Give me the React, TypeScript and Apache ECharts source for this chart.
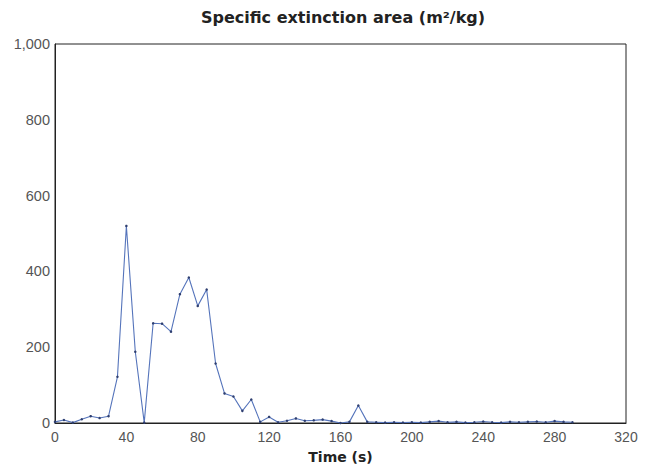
import { useEffect, useRef } from 'react';
import * as echarts from 'echarts';

const times = [
  0, 5, 10, 15, 20, 25, 30, 35, 40, 45, 50, 55, 60, 65, 70, 75, 80, 85, 90, 95,
  100, 105, 110, 115, 120, 125, 130, 135, 140, 145, 150, 155, 160, 165, 170, 175,
  180, 185, 190, 195, 200, 205, 210, 215, 220, 225, 230, 235, 240, 245, 250, 255,
  260, 265, 270, 275, 280, 285, 290,
];
const extinction = [
  3, 8, 1, 10, 18, 13, 18, 122, 520, 188, 1, 263, 262, 241, 340, 384, 309, 352, 157, 78,
  70, 32, 62, 3, 16, 2, 6, 12, 6, 7, 9, 5, 0, 3, 46, 3,
  2, 1, 2, 1, 2, 1, 3, 5, 2, 3, 1, 2, 4, 2, 1, 3,
  2, 3, 4, 2, 5, 3, 2,
];
const xTicks = [0, 40, 80, 120, 160, 200, 240, 280, 320];
const yTicks = [0, 200, 400, 600, 800, 1000];

export default function App() {
  const chartRef = useRef<HTMLDivElement>(null);

  useEffect(() => {
    if (!chartRef.current) return;
    document.body.style.margin = '0';
    const chart = echarts.init(chartRef.current, undefined, { renderer: 'svg' });

    const font = 'Liberation Sans, Arial, sans-serif';
    const boldFont = 'DejaVu Sans, sans-serif';
    chart.setOption({
      animation: false,
      textStyle: { fontFamily: font },
      title: {
        text: 'Specific extinction area (m²/kg)',
        left: 338,
        textAlign: 'center',
        top: 4,
        textStyle: { fontSize: 16, fontWeight: 'bold', color: '#222', fontFamily: boldFont },
      },
      grid: {
        left: 55,
        right: 24,
        top: 44,
        bottom: 45,
        show: true,
        borderColor: '#222',
        borderWidth: 1,
      },
      xAxis: {
        type: 'value',
        min: xTicks[0],
        max: xTicks[xTicks.length - 1],
        interval: 40,
        name: 'Time (s)',
        nameLocation: 'middle',
        nameGap: 27,
        nameTextStyle: { fontSize: 14, fontWeight: 'bold', color: '#222', fontFamily: boldFont },
        axisLine: { lineStyle: { color: '#222' } },
        axisTick: { show: false },
        axisLabel: { color: '#555', fontSize: 14, margin: 7 },
        splitLine: { show: false },
      },
      yAxis: {
        type: 'value',
        min: yTicks[0],
        max: yTicks[yTicks.length - 1],
        interval: 200,
        axisLine: { show: true, lineStyle: { color: '#222' } },
        axisTick: { show: false },
        axisLabel: {
          color: '#555',
          fontSize: 14.5,
          margin: 5,
          formatter: (v: number) => v.toLocaleString('en-US'),
        },
        splitLine: { show: false },
      },
      series: [
        {
          type: 'line',
          data: times.map((t, i) => [t, extinction[i]]),
          symbol: 'circle',
          symbolSize: 2.5,
          lineStyle: { color: '#5574bb', width: 1.1 },
          itemStyle: { color: '#2f3f70' },
        },
      ],
    });

    return () => {
      chart.dispose();
    };
  }, []);

  return <div ref={chartRef} style={{ width: '650px', height: '469px' }} />;
}
